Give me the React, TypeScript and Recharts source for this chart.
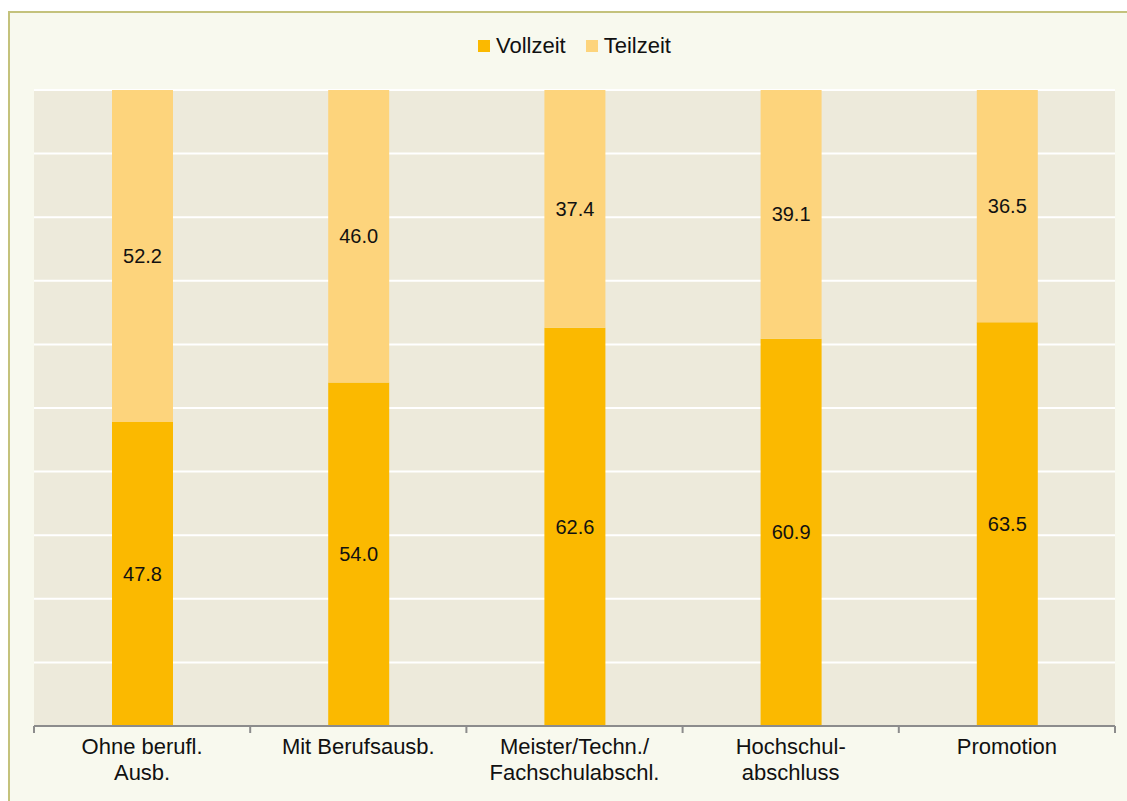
import { BarChart, Bar, XAxis, YAxis, CartesianGrid, LabelList } from "recharts";

const categories = [
  "Ohne berufl.\nAusb.",
  "Mit Berufsausb.",
  "Meister/Techn./\nFachschulabschl.",
  "Hochschul-\nabschluss",
  "Promotion",
];
const vollzeit = [47.8, 54.0, 62.6, 60.9, 63.5];
const teilzeit = [52.2, 46.0, 37.4, 39.1, 36.5];
const yTicks = [0, 10, 20, 30, 40, 50, 60, 70, 80, 90, 100];

const series = [
  { key: "vollzeit", name: "Vollzeit", color: "#fbb900" },
  { key: "teilzeit", name: "Teilzeit", color: "#fdd47c" },
];

const data = categories.map((name, i) => ({
  name,
  vollzeit: vollzeit[i],
  teilzeit: teilzeit[i],
}));

const FONT = '"Liberation Sans", Arial, sans-serif';

const CategoryTick = (props: any) => {
  const { x, y, payload, index } = props;
  const half = payload.offset || 0;
  const lines = String(payload.value).split("\n");
  return (
    <g>
      <line x1={x - half} x2={x - half} y1={y - 8} y2={y - 1} stroke="#8c8c8c" strokeWidth={2} />
      {index === categories.length - 1 && (
        <line x1={x + half} x2={x + half} y1={y - 8} y2={y - 1} stroke="#8c8c8c" strokeWidth={2} />
      )}
      <text x={x} y={y + 20} textAnchor="middle" fontSize={22} fill="#111" fontFamily={FONT}>
        {lines.map((l, i) => (
          <tspan key={i} x={x} dy={i === 0 ? 0 : 26}>
            {l}
          </tspan>
        ))}
      </text>
    </g>
  );
};

const App = () => {
  return (
    <div
      style={{
        position: "fixed",
        left: 8,
        top: 11,
        width: 1119,
        height: 790,
        background: "#f8f9ee",
        borderLeft: "2px solid #c4c27c",
        borderTop: "2px solid #c4c27c",
        fontFamily: FONT,
      }}
    >
      <div
        style={{
          position: "absolute",
          top: 20,
          left: 0,
          width: 1129,
          display: "flex",
          justifyContent: "center",
          gap: 20,
          fontSize: 22,
          color: "#111",
        }}
      >
        {series.map((s) => (
          <div key={s.key} style={{ display: "flex", alignItems: "center" }}>
            <span style={{ display: "inline-block", width: 12, height: 12, background: s.color, marginRight: 6 }} />
            <span>{s.name}</span>
          </div>
        ))}
      </div>
      <BarChart
        width={1117}
        height={788}
        data={data}
        margin={{ top: 77, right: 12, left: 24, bottom: 0 }}
        barSize={61}
      >
        <CartesianGrid vertical={false} stroke="#ffffff" strokeWidth={2} fill="#edeadb" />
        <YAxis hide domain={[0, 100]} ticks={yTicks} />
        <XAxis
          dataKey="name"
          height={75}
          interval={0}
          tickLine={false}
          axisLine={{ stroke: "#8c8c8c", strokeWidth: 2 }}
          tick={<CategoryTick />}
        />
        {series.map((s) => (
          <Bar key={s.key} dataKey={s.key} name={s.name} stackId="a" fill={s.color} isAnimationActive={false}>
            <LabelList
              dataKey={s.key}
              position="center"
              fill="#111"
              fontSize={20}
              fontFamily={FONT}
              formatter={(v: any) => Number(v).toFixed(1)}
            />
          </Bar>
        ))}
      </BarChart>
    </div>
  );
};

export default App;
